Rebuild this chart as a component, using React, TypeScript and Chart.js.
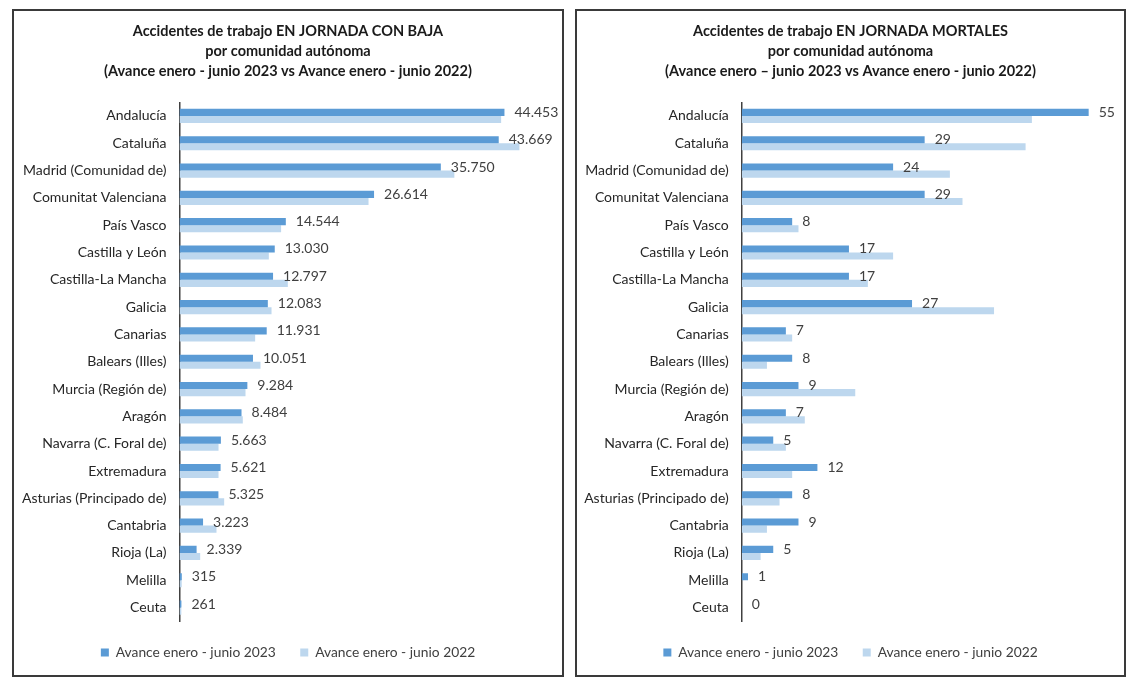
import React, { useEffect, useRef } from "react";
import { Chart, registerables } from "chart.js";

Chart.register(...registerables);

const categories = [
  "Andalucía",
  "Cataluña",
  "Madrid (Comunidad de)",
  "Comunitat Valenciana",
  "País Vasco",
  "Castilla y León",
  "Castilla-La Mancha",
  "Galicia",
  "Canarias",
  "Balears (Illes)",
  "Murcia (Región de)",
  "Aragón",
  "Navarra (C. Foral de)",
  "Extremadura",
  "Asturias (Principado de)",
  "Cantabria",
  "Rioja (La)",
  "Melilla",
  "Ceuta",
];

const conBaja2023 = [44453, 43669, 35750, 26614, 14544, 13030, 12797, 12083, 11931, 10051, 9284, 8484, 5663, 5621, 5325, 3223, 2339, 315, 261];
const conBaja2022 = [44000, 46500, 37600, 25860, 13900, 12220, 14820, 12590, 10350, 11080, 9030, 8660, 5340, 5340, 6110, 5060, 2830, 300, 250];
const mortales2023 = [55, 29, 24, 29, 8, 17, 17, 27, 7, 8, 9, 7, 5, 12, 8, 9, 5, 1, 0];
const mortales2022 = [46, 45, 33, 35, 9, 24, 20, 40, 8, 4, 18, 10, 7, 8, 6, 4, 3, 0, 0];

const seriesLabels = ["Avance enero - junio 2023", "Avance enero - junio 2022"];

const titleBaja = [
  "Accidentes de trabajo EN JORNADA CON BAJA",
  "por comunidad autónoma",
  "(Avance enero - junio 2023 vs Avance enero - junio 2022)",
];
const titleMortales = [
  "Accidentes de trabajo EN JORNADA MORTALES",
  "por comunidad autónoma",
  "(Avance enero – junio 2023 vs Avance enero - junio 2022)",
];

const DARK = "#5B9BD5";
const LIGHT = "#BDD7EE";
const FONT = "Lato";

function fmt(v: number): string {
  return String(v).replace(/\B(?=(\d{3})+(?!\d))/g, ".");
}

const valueLabelPlugin = {
  id: "valueLabels",
  afterDatasetsDraw(chart: any) {
    const ctx = chart.ctx;
    const meta = chart.getDatasetMeta(0);
    const data = chart.data.datasets[0].data as number[];
    ctx.save();
    ctx.font = `14px ${FONT}`;
    ctx.fillStyle = "#404040";
    ctx.textAlign = "left";
    ctx.textBaseline = "middle";
    meta.data.forEach((el: any, i: number) => {
      ctx.fillText(fmt(data[i]), el.x + 10, el.y);
    });
    ctx.restore();
  },
};

type PanelProps = {
  left: number;
  width: number;
  title: string[];
  v2023: number[];
  v2022: number[];
  max: number;
  axisWidth: number;
};

function Panel(p: PanelProps) {
  const ref = useRef<HTMLCanvasElement | null>(null);
  useEffect(() => {
    if (!ref.current) return;
    const chart = new Chart(ref.current, {
      type: "bar",
      data: {
        labels: categories,
        datasets: [
          { label: seriesLabels[0], data: p.v2023, backgroundColor: DARK, categoryPercentage: 0.52, barPercentage: 1 },
          { label: seriesLabels[1], data: p.v2022, backgroundColor: LIGHT, categoryPercentage: 0.52, barPercentage: 1 },
        ],
      },
      options: {
        indexAxis: "y",
        responsive: false,
        animation: false,
        layout: { padding: { left: 0, right: 0, top: 0, bottom: 5.5 } },
        scales: {
          x: { display: false, min: 0, max: p.max },
          y: {
            grid: { display: false, drawTicks: false },
            border: { display: true, color: "#404040", width: 1.5 },
            ticks: { color: "#262626", padding: 13, font: { family: FONT, size: 14 } },
            afterFit: (scale: any) => {
              scale.width = p.axisWidth;
            },
          },
        },
        plugins: {
          title: {
            display: true,
            text: p.title,
            color: "#1a1a1a",
            font: { family: FONT, size: 14.5, weight: "bold", lineHeight: 20 / 14.5 },
            padding: { top: 10.5, bottom: 20.8 },
          },
          legend: {
            position: "bottom",
            labels: {
              boxWidth: 8,
              boxHeight: 8,
              padding: 24.5,
              color: "#404040",
              font: { family: FONT, size: 13.8 },
            },
          },
          tooltip: { enabled: false },
        },
      },
      plugins: [valueLabelPlugin],
    } as any);
    return () => chart.destroy();
  }, []);
  const innerW = p.width - 4;
  return (
    <div
      style={{
        position: "absolute",
        left: p.left,
        top: 9,
        width: p.width,
        height: 668,
        boxSizing: "border-box",
        border: "2px solid #3a3a3a",
        background: "#fff",
      }}
    >
      <canvas ref={ref} width={innerW} height={664} style={{ display: "block", width: innerW, height: 664 }} />
    </div>
  );
}

export default function App() {
  return (
    <div style={{ position: "fixed", left: 0, top: 0, width: 1138, height: 685, background: "#fff" }}>
      <Panel left={12} width={552} title={titleBaja} v2023={conBaja2023} v2022={conBaja2022} max={52325} axisWidth={165.5} />
      <Panel left={575} width={551} title={titleMortales} v2023={mortales2023} v2022={mortales2022} max={60.6} axisWidth={164.7} />
    </div>
  );
}
